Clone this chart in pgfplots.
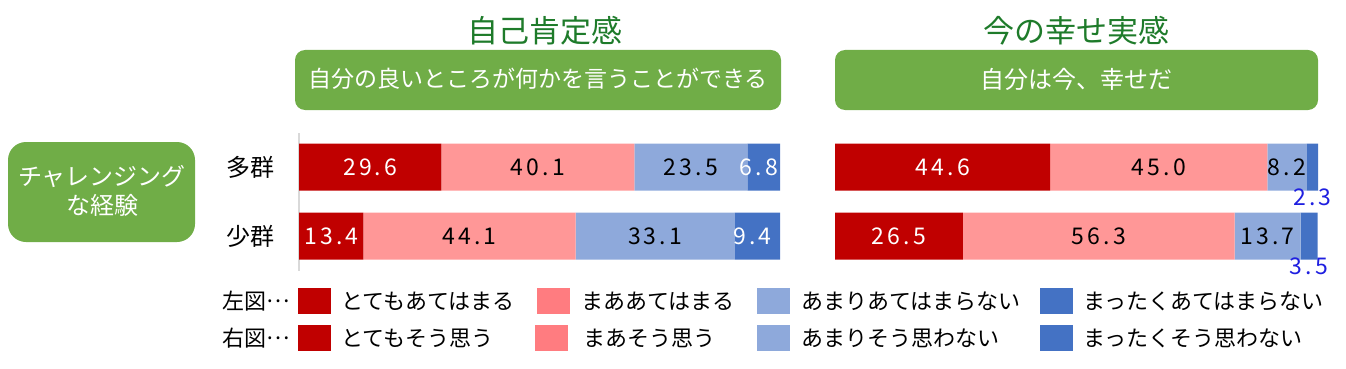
\documentclass[border=0pt]{standalone}
\usepackage{pgfplots}
\pgfplotsset{compat=1.18}
\usepackage{fontspec}
\setmainfont{Noto Sans CJK JP}
\newfontfamily\numfont{Noto Sans CJK JP}[LetterSpace=14]
\definecolor{cA}{HTML}{C00000}
\definecolor{cB}{HTML}{FF9797}
\definecolor{cC}{HTML}{8EA9DB}
\definecolor{cD}{HTML}{4472C4}
\definecolor{cBleg}{HTML}{FF7C80}
\definecolor{gbox}{HTML}{70AD47}
\definecolor{gtitle}{HTML}{1E7B2A}
\definecolor{numblue}{HTML}{1F1FE0}
\newcommand{\fs}[1]{\fontsize{#1}{#1}\selectfont}
\newcommand{\midell}{\raisebox{0.32em}{…}}
\pgfplotsset{
  mybars/.style={
    xbar stacked, bar width=47pt, scale only axis, height=138pt,
    xmin=0, ymin=-0.5, ymax=1.5, clip=false,
    axis x line=none, xtick=\empty,
    ytick={0,1}, major tick length=0pt,
    nodes near coords={\pgfmathprintnumber{\pgfplotspointmeta}},
    /pgf/number format/.cd, fixed, fixed zerofill, precision=1, assume math mode=true, /pgfplots/.cd,
    every node near coord/.append style={font=\numfont\fs{23}, anchor=center},
  },
  lbl/.style={every node near coord/.append style={text=#1}},
}
\begin{document}
\begin{tikzpicture}
\useasboundingbox (0,0) rectangle (1346pt,-369pt);
% titles
\node[text=gtitle, font=\fs{31}] at (545pt,-31pt) {自己肯定感};
\node[text=gtitle, font=\fs{31}] at (1076pt,-31pt) {今の幸せ実感};
% header boxes
\fill[gbox, rounded corners=10pt] (295pt,-50pt) rectangle (781pt,-110pt);
\node[text=white, font=\fs{23}] at (538pt,-79pt) {自分の良いところが何かを言うことができる};
\fill[gbox, rounded corners=10pt] (835pt,-50pt) rectangle (1318pt,-110pt);
\node[text=white, font=\fs{24}] at (1076pt,-79pt) {自分は今、幸せだ};
% left box
\fill[gbox, rounded corners=18pt] (8pt,-142pt) rectangle (195pt,-242pt);
\node[text=white, font=\fs{24}, align=center] at (102pt,-191pt) {チャレンジング\\[5pt]な経験};

% left chart
\begin{axis}[mybars, at={(299pt,-270.5pt)}, anchor=south west, width=481pt, xmax=100,
  axis y line*=left, y axis line style={draw=black!15, line width=1.2pt},
  yticklabels={少群,多群},
  yticklabel style={font=\fs{24}, inner sep=0pt, xshift=-24pt}]
\addplot[fill=cA, draw=none, lbl=white] coordinates {(29.6,1) (13.4,0)};
\addplot[fill=cB, draw=none, lbl=black] coordinates {(40.1,1) (44.1,0)};
\addplot[fill=cC, draw=none, lbl=black] coordinates {(23.5,1) (33.1,0)};
\addplot[fill=cD, draw=none, lbl=white,
  every node near coord/.append style={xshift=-5pt}] coordinates {(6.8,1) (9.4,0)};
\end{axis}

% right chart
\begin{axis}[mybars, at={(835pt,-270.5pt)}, anchor=south west, width=483pt, xmax=100.1,
  axis y line=none, yticklabels={}]
\addplot[fill=cA, draw=none, lbl=white] coordinates {(44.6,1) (26.5,0)};
\addplot[fill=cB, draw=none, lbl=black] coordinates {(45.0,1) (56.3,0)};
\addplot[fill=cC, draw=none, lbl=black] coordinates {(8.2,1) (13.7,0)};
\addplot[fill=cD, draw=none, lbl=numblue,
  every node near coord/.append style={yshift=-30pt}] coordinates {(2.3,1) (3.5,0)};
\end{axis}

% legend
\node[anchor=east, font=\fs{22}] at (293pt,-301pt) {左図\midell};
\node[anchor=east, font=\fs{22}] at (293pt,-338pt) {右図\midell};
\fill[cA] (298pt,-288pt) rectangle (331pt,-314pt);
\fill[cBleg] (537pt,-288pt) rectangle (570pt,-314pt);
\fill[cC] (757pt,-288pt) rectangle (790pt,-314pt);
\fill[cD] (1040pt,-288pt) rectangle (1073pt,-314pt);
\fill[cA] (298pt,-325pt) rectangle (331pt,-351pt);
\fill[cBleg] (535pt,-325pt) rectangle (568pt,-351pt);
\fill[cC] (757pt,-325pt) rectangle (790pt,-351pt);
\fill[cD] (1040pt,-325pt) rectangle (1073pt,-351pt);
\node[anchor=west, font=\fs{22}] at (338pt,-301pt) {とてもあてはまる};
\node[anchor=west, font=\fs{22}] at (578pt,-301pt) {まああてはまる};
\node[anchor=west, font=\fs{22}] at (798pt,-301pt) {あまりあてはまらない};
\node[anchor=west, font=\fs{22}] at (1080pt,-301pt) {まったくあてはまらない};
\node[anchor=west, font=\fs{22}] at (338pt,-338pt) {とてもそう思う};
\node[anchor=west, font=\fs{22}] at (580pt,-338pt) {まあそう思う};
\node[anchor=west, font=\fs{22}] at (798pt,-338pt) {あまりそう思わない};
\node[anchor=west, font=\fs{22}] at (1080pt,-338pt) {まったくそう思わない};
\end{tikzpicture}
\end{document}
